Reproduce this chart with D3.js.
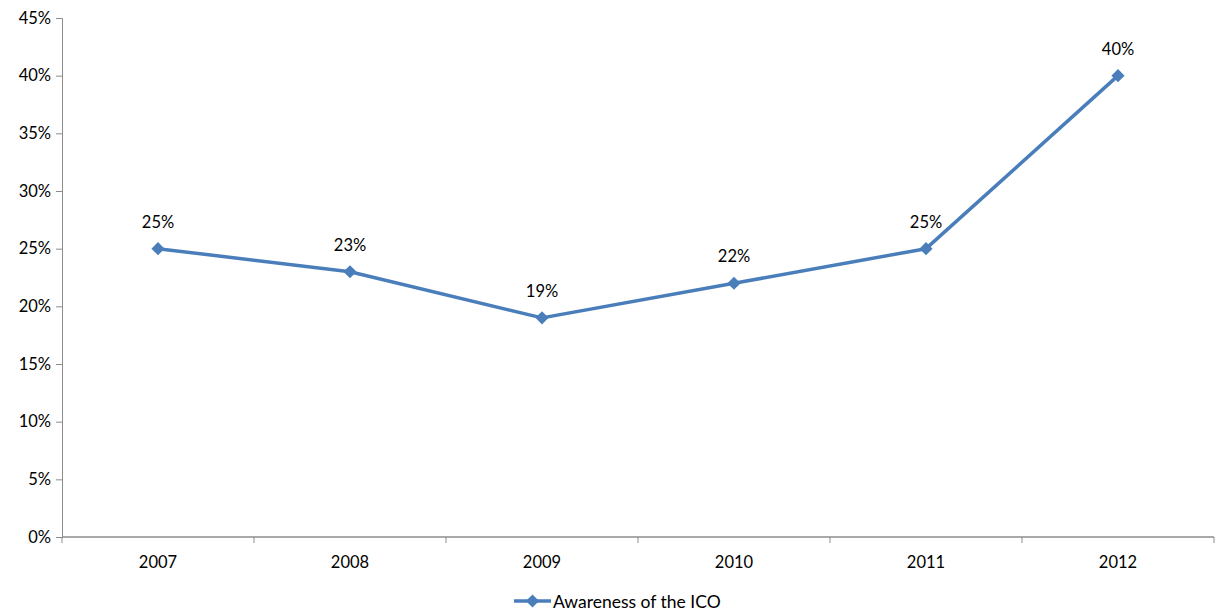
<!DOCTYPE html>
<html>
<head>
<meta charset="utf-8">
<script src="https://cdn.jsdelivr.net/npm/d3@7"></script>
<style>
  html, body { margin: 0; padding: 0; background: #fff; }
  svg { display: block; font-family: Lato, "Open Sans", "Liberation Sans", sans-serif; }
</style>
</head>
<body>
<svg id="chart" width="1215" height="615"></svg>
<script>
// Awareness of the ICO by year
const years = ["2007", "2008", "2009", "2010", "2011", "2012"];
const awareness = [0.25, 0.23, 0.19, 0.22, 0.25, 0.40];
const yTicks = [0, 0.05, 0.10, 0.15, 0.20, 0.25, 0.30, 0.35, 0.40, 0.45];
const seriesName = "Awareness of the ICO";

(function () {
  const svg = d3.select("#chart");
  const plotLeft = 62, plotRight = 1214, plotTop = 18, plotBottom = 537;
  const axisColor = "#8c8c8c";
  const lineColor = "#4a7ebb";
  const fontSize = 16.5;

  const x = d3.scaleBand().domain(years).range([plotLeft, plotRight]).paddingInner(0).paddingOuter(0);
  const y = d3.scaleLinear().domain([0, 0.45]).range([plotBottom, plotTop]);
  const fmt = d3.format(".0%");

  // Y axis
  const yAxis = svg.append("g")
    .attr("transform", `translate(${plotLeft},0)`)
    .call(d3.axisLeft(y).tickValues(yTicks).tickFormat(fmt).tickSize(6).tickPadding(5));
  yAxis.select(".domain").attr("stroke", axisColor).attr("stroke-width", 1);
  yAxis.selectAll(".tick line").attr("stroke", axisColor);
  yAxis.selectAll(".tick text").attr("fill", "#000").attr("font-size", fontSize)
    .attr("font-family", "Lato, 'Open Sans', sans-serif");

  // X axis with ticks at category boundaries
  const xg = svg.append("g").attr("transform", `translate(0,${plotBottom})`);
  xg.append("line").attr("x1", plotLeft).attr("x2", plotRight).attr("y1", 0).attr("y2", 0)
    .attr("stroke", axisColor).attr("stroke-width", 1.5);
  const bounds = years.map(d => x(d)).concat([plotRight]);
  xg.selectAll("line.tk").data(bounds).enter().append("line")
    .attr("class", "tk")
    .attr("x1", d => d).attr("x2", d => d).attr("y1", 0).attr("y2", 6)
    .attr("stroke", axisColor);
  xg.selectAll("text").data(years).enter().append("text")
    .attr("x", d => x(d) + x.bandwidth() / 2)
    .attr("y", 31)
    .attr("text-anchor", "middle")
    .attr("font-size", fontSize)
    .text(d => d);

  // Series line
  const cx = (d, i) => x(years[i]) + x.bandwidth() / 2;
  const line = d3.line().x(cx).y(d => y(d));
  svg.append("path").datum(awareness)
    .attr("d", line)
    .attr("fill", "none")
    .attr("stroke", lineColor)
    .attr("stroke-width", 3.5)
    .attr("stroke-linejoin", "round");

  // Diamond markers
  const diamond = d3.symbol().type(d3.symbolDiamond2).size(110);
  svg.selectAll("path.mk").data(awareness).enter().append("path")
    .attr("class", "mk")
    .attr("d", diamond)
    .attr("transform", (d, i) => `translate(${cx(d, i)},${y(d)})`)
    .attr("fill", lineColor);

  // Data labels
  svg.selectAll("text.lbl").data(awareness).enter().append("text")
    .attr("class", "lbl")
    .attr("x", cx)
    .attr("y", d => y(d) - 21)
    .attr("text-anchor", "middle")
    .attr("font-size", fontSize)
    .text(d => fmt(d));

  // Legend
  const lg = svg.append("g").attr("transform", "translate(514,601)");
  lg.append("line").attr("x1", 0).attr("x2", 37).attr("y1", 0).attr("y2", 0)
    .attr("stroke", lineColor).attr("stroke-width", 3.5);
  lg.append("path").attr("d", diamond).attr("transform", "translate(18.5,0)").attr("fill", lineColor);
  lg.append("text").attr("x", 39).attr("y", 6.5).attr("font-size", 17.5).text(seriesName);
})();
</script>
</body>
</html>
